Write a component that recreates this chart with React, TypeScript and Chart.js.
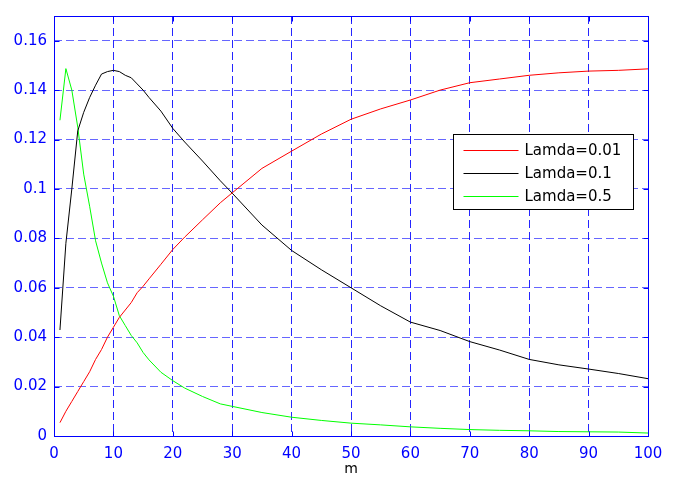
import React, { useEffect, useRef } from "react";
import { Chart, registerables } from "chart.js";

Chart.register(...registerables);

const mValues = [1, 2, 3, 4, 5, 6, 7, 8, 9, 10, 11, 12, 13, 14, 15, 16, 18, 20, 22, 25, 28, 30, 35, 40, 45, 50, 55, 60, 65, 70, 75, 80, 85, 90, 95, 100];

const lamda001 = [0.0054, 0.010, 0.014, 0.018, 0.022, 0.026, 0.031, 0.035, 0.040, 0.044, 0.048, 0.051, 0.054, 0.058, 0.0606, 0.0636, 0.0695, 0.0755, 0.0805, 0.0875, 0.0944, 0.0984, 0.1083, 0.1153, 0.1222, 0.1282, 0.1324, 0.136, 0.140, 0.143, 0.1445, 0.146, 0.147, 0.1477, 0.148, 0.1486];

const lamda01 = [0.0429, 0.078, 0.100, 0.1235, 0.131, 0.137, 0.142, 0.1465, 0.1475, 0.148, 0.1475, 0.146, 0.145, 0.1425, 0.140, 0.137, 0.1315, 0.1245, 0.119, 0.1113, 0.1033, 0.0983, 0.0854, 0.0751, 0.0673, 0.060, 0.0527, 0.0461, 0.0427, 0.0382, 0.0348, 0.031, 0.0288, 0.0271, 0.0253, 0.0232];

const lamda05 = [0.1278, 0.1487, 0.140, 0.125, 0.106, 0.093, 0.079, 0.070, 0.062, 0.0566, 0.0487, 0.0447, 0.0407, 0.0377, 0.0338, 0.0308, 0.0258, 0.0224, 0.0194, 0.0160, 0.013, 0.012, 0.0095, 0.0076, 0.0063, 0.0052, 0.0045, 0.0037, 0.0031, 0.0026, 0.0023, 0.0021, 0.0018, 0.0017, 0.0016, 0.0012];

const seriesLabels = ["Lamda=0.01", "Lamda=0.1", "Lamda=0.5"];
const seriesColors = ["#ff0000", "#000000", "#00ff00"];
const seriesValues = [lamda001, lamda01, lamda05];

const FONT = "'DejaVu Sans', sans-serif";

const framePlugin = {
  id: "matlabFrame",
  afterDatasetsDraw(chart: any) {
    const { ctx, chartArea: ca, scales } = chart;
    ctx.save();
    ctx.strokeStyle = "#0000ff";
    ctx.lineWidth = 1;
    ctx.setLineDash([]);
    const L = Math.round(ca.left) + 0.5;
    const R = Math.round(ca.right) + 0.5;
    const T = Math.round(ca.top) + 0.5;
    const B = Math.round(ca.bottom) + 0.5;
    ctx.strokeRect(L, T, R - L, B - T);
    const tk = 5;
    ctx.beginPath();
    scales.x.ticks.forEach((t: any) => {
      const px = Math.round(scales.x.getPixelForValue(t.value)) + 0.5;
      ctx.moveTo(px, B);
      ctx.lineTo(px, B - tk);
      ctx.moveTo(px, T);
      ctx.lineTo(px, T + tk);
    });
    scales.y.ticks.forEach((t: any) => {
      const py = Math.round(scales.y.getPixelForValue(t.value)) + 0.5;
      ctx.moveTo(L, py);
      ctx.lineTo(L + tk, py);
      ctx.moveTo(R, py);
      ctx.lineTo(R - tk, py);
    });
    ctx.stroke();

    // legend
    const bx = Math.round(ca.left) + 399 + 0.5;
    const by = Math.round(ca.top) + 118 + 0.5;
    const bw = 180;
    const bh = 75;
    ctx.fillStyle = "#ffffff";
    ctx.fillRect(bx, by, bw, bh);
    ctx.strokeStyle = "#000000";
    ctx.strokeRect(bx, by, bw, bh);
    ctx.font = `15px ${FONT}`;
    ctx.textBaseline = "middle";
    ctx.textAlign = "left";
    const rows = [15, 38.3, 61.7];
    chart.data.datasets.forEach((ds: any, i: number) => {
      const y = Math.round(by + rows[i]) + 0.5;
      ctx.strokeStyle = ds.borderColor;
      ctx.beginPath();
      ctx.moveTo(bx + 10, y);
      ctx.lineTo(bx + 65, y);
      ctx.stroke();
      ctx.fillStyle = "#000000";
      ctx.fillText(ds.label, bx + 71, y + 0.5);
    });
    ctx.restore();
  },
};

export default function App() {
  const canvasRef = useRef<HTMLCanvasElement | null>(null);

  useEffect(() => {
    if (!canvasRef.current) return;
    const chart = new Chart(canvasRef.current, {
      type: "line",
      data: {
        datasets: seriesValues.map((vals, i) => ({
          label: seriesLabels[i],
          data: mValues.map((m, j) => ({ x: m, y: vals[j] })),
          borderColor: seriesColors[i],
          backgroundColor: seriesColors[i],
          borderWidth: 1,
          pointRadius: 0,
          tension: 0,
          fill: false,
        })),
      },
      options: {
        animation: false,
        responsive: true,
        maintainAspectRatio: false,
        layout: { padding: { left: 0, right: 29, top: 7, bottom: 0 } },
        plugins: {
          legend: { display: false },
          tooltip: { enabled: false },
        },
        scales: {
          x: {
            type: "linear",
            min: 0,
            max: 100,
            afterFit: (s: any) => {
              s.height = 43;
            },
            ticks: {
              stepSize: 10,
              color: "#0000ff",
              font: { family: FONT, size: 15 },
              padding: 9,
              maxRotation: 0,
              includeBounds: false,
            },
            grid: {
              color: "rgba(0,0,255,0.85)",
              lineWidth: 1,
              drawTicks: false,
            },
            border: { display: false, dash: [8, 4] },
            title: {
              display: true,
              text: "m",
              color: "#000000",
              font: { family: FONT, size: 14 },
              padding: { top: 0, bottom: 1 },
            },
          },
          y: {
            type: "linear",
            min: 0,
            max: 0.17,
            afterFit: (s: any) => {
              s.width = 54;
            },
            ticks: {
              stepSize: 0.02,
              includeBounds: false,
              color: "#0000ff",
              font: { family: FONT, size: 15 },
              padding: 7,
              callback: (v: any) => String(Number(Number(v).toFixed(2))),
            },
            grid: {
              color: "rgba(0,0,255,0.6)",
              lineWidth: 1,
              drawTicks: false,
            },
            border: { display: false, dash: [8, 4] },
          },
        },
      } as any,
      plugins: [framePlugin],
    });
    return () => chart.destroy();
  }, []);

  return (
    <div
      style={{
        position: "fixed",
        left: 0,
        top: 0,
        width: 677,
        height: 479,
        background: "#ffffff",
      }}
    >
      <canvas ref={canvasRef} />
    </div>
  );
}
